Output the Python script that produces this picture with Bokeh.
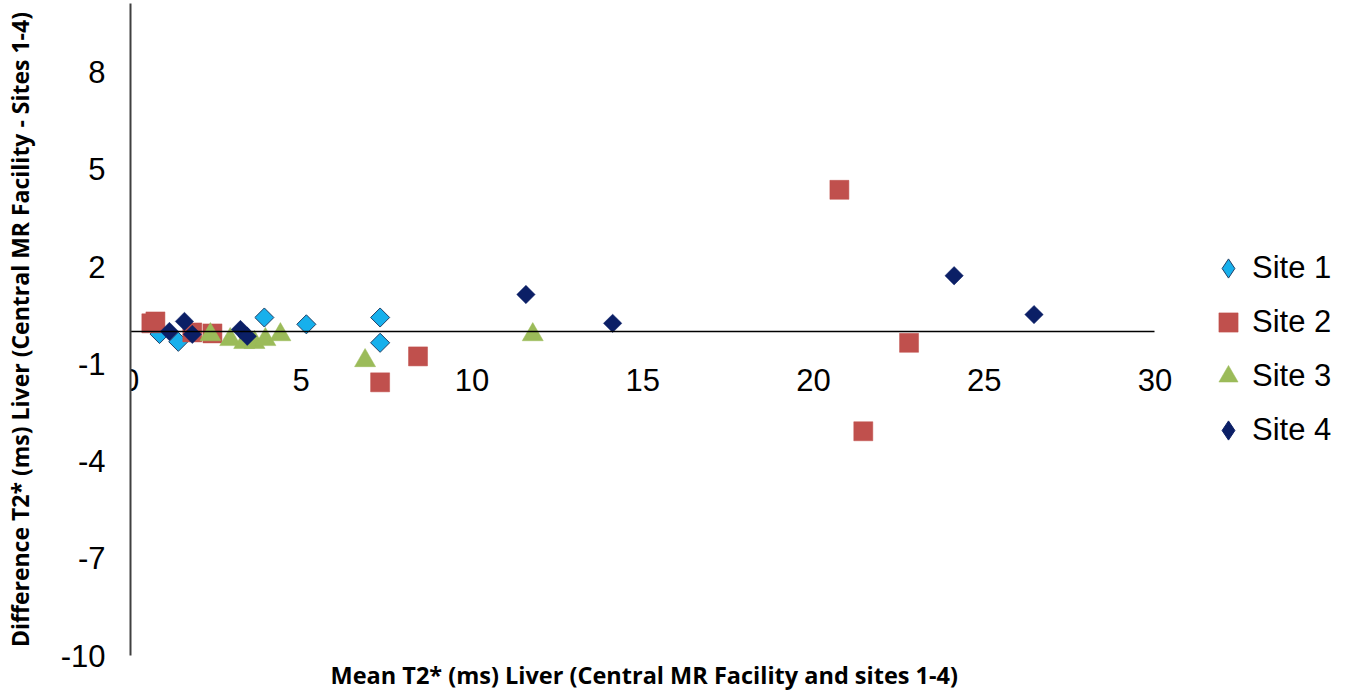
import numpy as np
from bokeh.plotting import figure
from bokeh.models import Range1d, FixedTicker, Legend, LegendItem, Title, PrintfTickFormatter
from bokeh.embed import file_html
from bokeh.resources import INLINE

# ---- data ----
x_ticks = [0, 5, 10, 15, 20, 25, 30]
y_ticks = [-10, -7, -4, -1, 2, 5, 8]

site_names = ["Site 1", "Site 2", "Site 3", "Site 4"]

site1_x = [0.85, 1.40, 3.92, 5.15, 7.31, 7.31]
site1_y = [-0.08, -0.32, 0.43, 0.22, 0.43, -0.35]

site2_x = [0.61, 0.73, 1.81, 2.40, 7.31, 8.42, 20.76, 21.46, 22.80]
site2_y = [0.25, 0.31, -0.03, -0.06, -1.57, -0.77, 4.37, -3.08, -0.35]

site3_x = [2.34, 2.92, 3.33, 3.63, 3.95, 4.39, 6.87, 11.78]
site3_y = [-0.10, -0.25, -0.34, -0.34, -0.25, -0.10, -0.90, -0.10]

site4_x = [1.14, 1.58, 1.81, 3.22, 3.42, 11.58, 14.12, 24.12, 26.46]
site4_y = [0.00, 0.31, -0.09, 0.06, -0.15, 1.14, 0.25, 1.72, 0.52]

# ---- styles ----
C1, C1_LINE = "#17B0EC", "#1F3F66"
C2 = "#C0504D"
C3 = "#9BBB59"
C4 = "#0B1F66"
TICK_FONT = "Liberation Sans"
TITLE_FONT = "Open Sans"

p = figure(width=1333, height=692, output_backend="svg", toolbar_location=None,
           x_range=Range1d(0, 35.23), y_range=Range1d(-10, 10.12),
           min_border_left=129, min_border_right=0,
           min_border_top=3, min_border_bottom=35)
p.outline_line_color = None
p.grid.visible = False
p.background_fill_color = "white"
p.border_fill_color = "white"

# x axis crossing at y = 0
xa = p.xaxis[0]
xa.fixed_location = 0
xa.bounds = (x_ticks[0], x_ticks[-1])
xa.ticker = FixedTicker(ticks=x_ticks)
xa.formatter = PrintfTickFormatter(format="%d")
xa.major_tick_in = 0
xa.major_tick_out = 0
xa.minor_tick_in = 0
xa.minor_tick_out = 0
xa.axis_line_color = "black"
xa.axis_line_width = 1.3
xa.major_label_text_font = TICK_FONT
xa.major_label_text_font_size = "31px"
xa.major_label_text_color = "black"
xa.major_label_standoff = 38

ya = p.yaxis[0]
ya.bounds = (y_ticks[0], 10.12)
ya.ticker = FixedTicker(ticks=y_ticks)
ya.formatter = PrintfTickFormatter(format="%d")
ya.major_tick_in = 0
ya.major_tick_out = 0
ya.minor_tick_in = 0
ya.minor_tick_out = 0
ya.axis_line_color = "#404040"
ya.axis_line_width = 2
ya.major_label_text_font = TICK_FONT
ya.major_label_text_font_size = "31px"
ya.major_label_text_color = "black"
ya.major_label_standoff = 25
ya.axis_label = "Difference T2* (ms) Liver (Central MR Facility - Sites 1-4)"
ya.axis_label_text_font = TITLE_FONT
ya.axis_label_text_font_style = "bold"
ya.axis_label_text_font_size = "23px"
ya.axis_label_text_color = "black"
ya.axis_label_standoff = 22

# points
r1 = p.scatter(site1_x, site1_y, marker="square", angle=np.pi / 4, size=13.5,
               fill_color=C1, line_color=C1_LINE, line_width=1)
r2 = p.scatter(site2_x, site2_y, marker="square", size=19,
               fill_color=C2, line_color=C2, line_width=0.5)
r3 = p.scatter(site3_x, site3_y, marker="triangle", size=21,
               fill_color=C3, line_color=C3, line_width=0.5)
r4 = p.scatter(site4_x, site4_y, marker="square", angle=np.pi / 4, size=13,
               fill_color=C4, line_color=C4, line_width=0.5)

# legend swatches for the diamond series (not drawn in the plot area: NaN position)
l1 = p.scatter(x=[np.nan], y=[np.nan], marker="diamond", fill_color=C1, line_color=C1_LINE, line_width=1)
l4 = p.scatter(x=[np.nan], y=[np.nan], marker="diamond", fill_color=C4, line_color=C4)

legend = Legend(items=[LegendItem(label=site_names[0], renderers=[l1]),
                       LegendItem(label=site_names[1], renderers=[r2]),
                       LegendItem(label=site_names[2], renderers=[r3]),
                       LegendItem(label=site_names[3], renderers=[l4])],
                location=(1074, 201), orientation="vertical",
                glyph_width=48, glyph_height=48, label_height=48,
                spacing=6, padding=0, margin=0, label_standoff=-17,
                label_text_font=TICK_FONT, label_text_font_size="31px",
                label_text_color="black", label_text_baseline="middle",
                border_line_color=None, background_fill_alpha=0)
p.add_layout(legend, "center")

p.add_layout(Title(text="Mean T2* (ms) Liver (Central MR Facility and sites  1-4)",
                   align="left", offset=200, text_font=TITLE_FONT, text_font_style="bold",
                   text_font_size="23.5px", text_color="black", standoff=3), "below")

open("out.html", "w").write(file_html(p, INLINE))
